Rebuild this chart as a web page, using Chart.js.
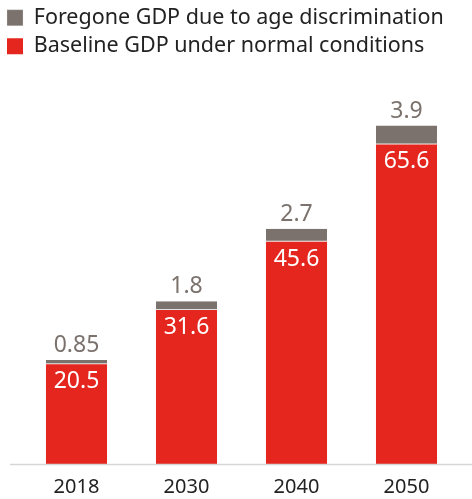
<!DOCTYPE html>
<html>
<head>
<meta charset="utf-8">
<script src="https://cdn.jsdelivr.net/npm/chart.js@4/dist/chart.umd.min.js"></script>
<style>
  html, body { margin: 0; padding: 0; background: #fff; }
  #wrap { width: 472px; height: 499px; }
</style>
</head>
<body>
<div id="wrap"><canvas id="gdpChart"></canvas></div>
<script>
const years = ["2018", "2030", "2040", "2050"];
const baseline = [20.5, 31.6, 45.6, 65.6];
const foregone = [0.85, 1.8, 2.7, 3.9];
const baselineLabels = ["20.5", "31.6", "45.6", "65.6"];
const foregoneLabels = ["0.85", "1.8", "2.7", "3.9"];

const RED = "#e5261e";
const GREY = "#7b726d";
const FONT = "'Noto Sans', sans-serif";

// value labels: white inside the red bar, grey above the stack
const valueLabels = {
  id: "valueLabels",
  afterDatasetsDraw(chart) {
    const ctx = chart.ctx;
    const redMeta = chart.getDatasetMeta(0);
    const greyMeta = chart.getDatasetMeta(1);
    ctx.save();
    ctx.font = "23px " + FONT;
    ctx.textAlign = "center";
    redMeta.data.forEach((bar, i) => {
      ctx.fillStyle = "#fff";
      ctx.textBaseline = "top";
      ctx.fillText(baselineLabels[i], bar.x, bar.y + 6);
      const g = greyMeta.data[i];
      ctx.fillStyle = GREY;
      ctx.textBaseline = "bottom";
      ctx.fillText(foregoneLabels[i], g.x, g.y - 3);
    });
    ctx.restore();
  }
};

// light baseline running almost the full width
const baseLine = {
  id: "baseLine",
  afterDatasetsDraw(chart) {
    const ctx = chart.ctx;
    const y = chart.scales.y.getPixelForValue(0) + 0.5;
    ctx.save();
    ctx.strokeStyle = "#d6d6d6";
    ctx.lineWidth = 1.5;
    ctx.beginPath();
    ctx.moveTo(10, y);
    ctx.lineTo(chart.width, y);
    ctx.stroke();
    ctx.restore();
  }
};

new Chart(document.getElementById("gdpChart"), {
  type: "bar",
  data: {
    labels: years,
    datasets: [
      {
        label: "Baseline GDP under normal conditions",
        data: baseline,
        backgroundColor: RED,
        borderWidth: 0,
        barPercentage: 0.555,
        categoryPercentage: 1
      },
      {
        label: "Foregone GDP due to age discrimination",
        data: foregone,
        backgroundColor: GREY,
        borderColor: "#e2e2e2",
        borderWidth: { top: 0, left: 0, right: 0, bottom: 1 },
        borderSkipped: false,
        barPercentage: 0.555,
        categoryPercentage: 1
      }
    ]
  },
  options: {
    responsive: true,
    maintainAspectRatio: false,
    animation: false,
    layout: { padding: { left: 0, right: 10.5, top: 0, bottom: 0 } },
    plugins: {
      tooltip: { enabled: false },
      legend: {
        position: "top",
        align: "start",
        reverse: true,
        labels: {
          boxWidth: 16,
          boxHeight: 16,
          padding: 7,
          color: "#222",
          font: { family: FONT, size: 21.5 }
        }
      }
    },
    scales: {
      x: {
        stacked: true,
        grid: { display: false, drawTicks: false },
        border: { display: false },
        ticks: { color: "#222", font: { family: FONT, size: 20 }, padding: 11 },
        afterFit(scale) { scale.height = 35; }
      },
      y: {
        stacked: true,
        min: 0,
        max: 81.5,
        grid: { display: false },
        border: { display: false },
        ticks: { display: false },
        afterFit(scale) { scale.width = 21.5; }
      }
    }
  },
  plugins: [valueLabels, baseLine]
});
</script>
</body>
</html>
